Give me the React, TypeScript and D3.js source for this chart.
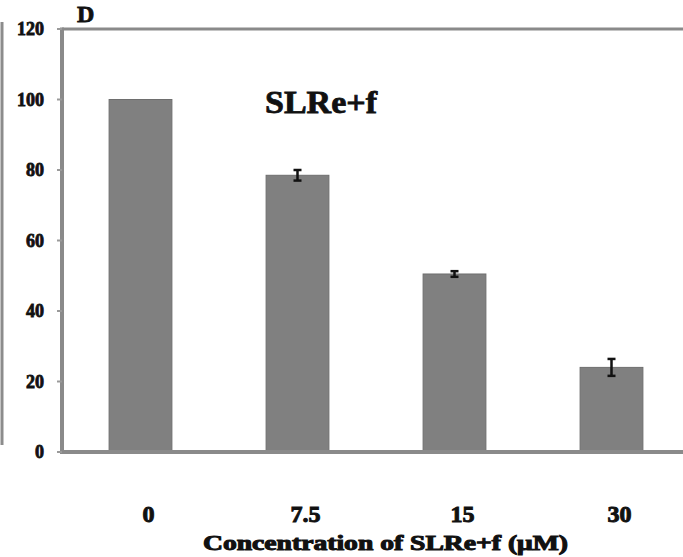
import React from "react";
import * as d3 from "d3";

const categories = ["0", "7.5", "15", "30"];
const values = [100, 78.5, 50.5, 24];
const errors = [0, 1.5, 0.8, 2.4];
const yTicks = [0, 20, 40, 60, 80, 100, 120];

const width = 683;
const height = 557;
const margin = { left: 62, top: 29, bottom: 452 };
const serif = "'Liberation Serif', 'Times New Roman', serif";

const App = () => {
  const x = d3
    .scaleBand<string>()
    .domain(categories)
    .range([margin.left, margin.left + 628])
    .paddingInner(0.6)
    .paddingOuter(0.3);

  const y = d3.scaleLinear().domain([0, 120]).range([margin.bottom, margin.top]);

  return (
    <svg
      width={width}
      height={height}
      style={{ position: "absolute", left: 0, top: 0, background: "#fff" }}
    >
      {/* edge of the neighbouring panel */}
      <line x1={2} x2={2} y1={22} y2={445} stroke="#8c8c8c" strokeWidth={3} />

      <text x={77} y={22} fontFamily={serif} fontWeight="bold" fontSize={24} fill="#111" stroke="#111" strokeWidth={0.8}>
        D
      </text>

      {/* frame */}
      <line x1={margin.left} x2={width} y1={y(120)} y2={y(120)} stroke="#8a8a8a" strokeWidth={3} />
      <line
        x1={margin.left}
        x2={margin.left}
        y1={y(120) - 1.5}
        y2={margin.bottom}
        stroke="#8a8a8a"
        strokeWidth={4}
      />

      {/* bars */}
      {categories.map((c, i) => (
        <rect
          key={c}
          x={x(c)}
          y={y(values[i])}
          width={x.bandwidth()}
          height={y(0) - y(values[i])}
          fill="#808080"
          stroke="#6e6e6e"
          strokeWidth={1}
        />
      ))}

      {/* error bars */}
      {categories.map((c, i) => {
        if (!errors[i]) return null;
        const cx = (x(c) as number) + x.bandwidth() / 2;
        return (
          <g key={c} stroke="#111" strokeWidth={2.5}>
            <line x1={cx} x2={cx} y1={y(values[i] + errors[i])} y2={y(values[i] - errors[i])} />
            <line x1={cx - 4} x2={cx + 4} y1={y(values[i] + errors[i])} y2={y(values[i] + errors[i])} />
            <line x1={cx - 4} x2={cx + 4} y1={y(values[i] - errors[i])} y2={y(values[i] - errors[i])} />
          </g>
        );
      })}

      {/* x axis line */}
      <line
        x1={margin.left - 2}
        x2={width}
        y1={margin.bottom}
        y2={margin.bottom}
        stroke="#8a8a8a"
        strokeWidth={4}
      />

      {/* y ticks */}
      {yTicks.map((t) => (
        <g key={t}>
          <line x1={margin.left - 5} x2={margin.left} y1={y(t)} y2={y(t)} stroke="#9a9a9a" strokeWidth={2} />
          <text
            x={44}
            y={y(t)}
            dy="0.35em"
            textAnchor="end"
            fontFamily={serif}
            fontWeight="bold"
            fontSize={18}
            fill="#111"
            stroke="#111"
            strokeWidth={0.8}
          >
            {t}
          </text>
        </g>
      ))}

      {/* x labels */}
      {categories.map((c) => (
        <text
          key={c}
          x={(x(c) as number) + x.bandwidth() / 2 + 8}
          y={522}
          textAnchor="middle"
          fontFamily={serif}
          fontWeight="bold"
          fontSize={24}
          fill="#111"
          stroke="#111"
          strokeWidth={1}
        >
          {c}
        </text>
      ))}

      <text
        x={203}
        y={550}
        textLength={365}
        lengthAdjust="spacingAndGlyphs"
        fontFamily={serif}
        fontWeight="bold"
        fontSize={20}
        fill="#111"
        stroke="#111"
        strokeWidth={1}
      >
        Concentration  of SLRe+f (μM)
      </text>

      <text
        x={265}
        y={113}
        textLength={112}
        lengthAdjust="spacingAndGlyphs"
        fontFamily={serif}
        fontWeight="bold"
        fontSize={32}
        fill="#111"
        stroke="#111"
        strokeWidth={0.8}
      >
        SLRe+f
      </text>
    </svg>
  );
};

export default App;
